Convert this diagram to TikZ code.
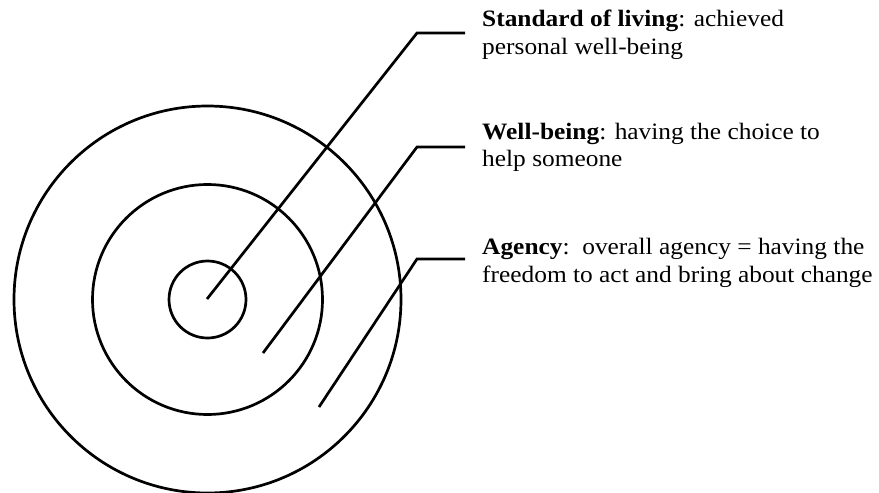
\documentclass[tikz,border=0pt]{standalone}
\usepackage{fontspec}
\setmainfont{Liberation Serif}
\begin{document}
\begin{tikzpicture}[x=1pt,y=-1pt,
  ring/.style={draw=black, line width=2.7pt},
  leader/.style={draw=black, line width=2.7pt, line join=miter},
  label/.style={anchor=base west, align=left, inner sep=0pt, xscale=1.08, transform shape,
    font=\fontsize{23.5}{27.6}\selectfont}]
\useasboundingbox (0,0) rectangle (879,493);
% circles
\coordinate (c) at (207.5,299.5);
\draw[ring] (c) circle[radius=38.5];
\draw[ring] (c) circle[radius=115];
\draw[ring] (c) circle[radius=193.5];
% leader points
\coordinate (s1) at (207,299);
\coordinate (b1) at (417,33);
\coordinate (e1) at (465,33);
\coordinate (s2) at (263,353);
\coordinate (b2) at (417,147);
\coordinate (e2) at (465,147);
\coordinate (s3) at (319,407);
\coordinate (b3) at (417,259);
\coordinate (e3) at (465,259);
\draw[leader] (s1) -- (b1) -- (e1);
\draw[leader] (s2) -- (b2) -- (e2);
\draw[leader] (s3) -- (b3) -- (e3);
% labels (base anchor = baseline of the last line)
\node[label] (l1) at (482,54.3) {\textbf{Standard of living}: achieved\\personal well-being};
\node[label] (l2) at (482,166.6) {\textbf{Well-being}: having the choice to\\help someone};
\node[label] (l3) at (482,282.1) {\textbf{Agency}:\ \ overall agency = having the\\freedom to act and bring about change};
\end{tikzpicture}
\end{document}
